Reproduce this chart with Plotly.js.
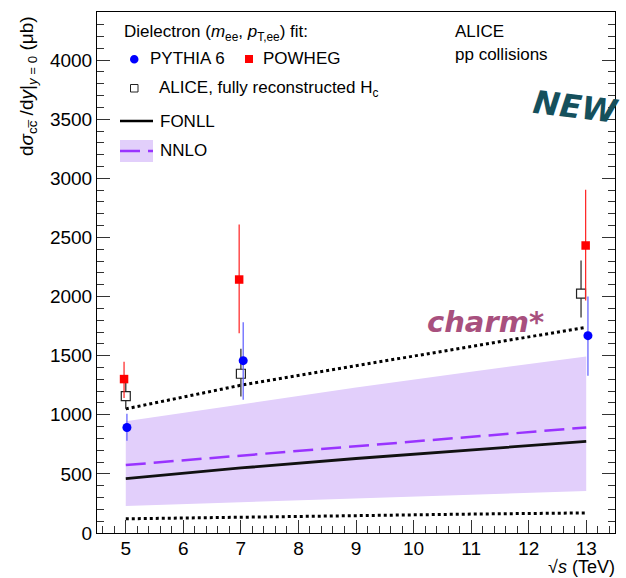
<!DOCTYPE html>
<html>
<head>
<meta charset="utf-8">
<script src="https://cdn.plot.ly/plotly-3.0.1.min.js"></script>
<style>html,body{margin:0;padding:0;background:#fff;}#plot{width:626px;height:578px;}</style>
</head>
<body>
<div id="plot"></div>
<script>
// ---- data ----
const xTheory = [5, 7, 9, 11, 13];
const fonll = [460, 550, 630, 705, 775];
const fonllUpper = [1050, 1250, 1415, 1580, 1740];
const fonllLower = [120, 135, 148, 160, 170];
const nnlo = [575, 655, 735, 815, 893];
const nnloUpper = [945, 1090, 1230, 1365, 1492];
const nnloLower = [229, 262, 295, 326, 356];

const pythiaX = [5.02, 7.04, 13.03];
const pythiaY = [892, 1458, 1669];
const pythiaErrPlus = [116, 324, 331];
const pythiaErrMinus = [112, 331, 339];

const powhegX = [4.97, 6.97, 12.99];
const powhegY = [1302, 2144, 2432];
const powhegErrPlus = [147, 466, 472];
const powhegErrMinus = [161, 455, 466];

const aliceX = [5.0, 7.0, 12.91];
const aliceY = [1158, 1347, 2025];
const aliceErrPlus = [139, 212, 280];
const aliceErrMinus = [107, 192, 203];

// ---- layout helpers ----
const W = 626, H = 578;
const L = 97, R = 615, T = 12, B = 533;
const px = v => (v - L) / (R - L);
const py = v => (B - v) / (B - T);
const FONT = 'Liberation Sans, Arial, sans-serif';
const bandColor = '#e2cffb';
const purple = '#9933ff';

const traces = [
  {x: xTheory, y: nnloLower, mode: 'lines', line: {width: 0}, hoverinfo: 'skip', showlegend: false},
  {x: xTheory, y: nnloUpper, mode: 'lines', line: {width: 0}, fill: 'tonexty', fillcolor: bandColor, hoverinfo: 'skip', showlegend: false},
  {x: xTheory, y: fonllUpper, mode: 'lines', line: {color: 'black', width: 3, dash: 'dot'}, showlegend: false},
  {x: xTheory, y: fonllLower, mode: 'lines', line: {color: 'black', width: 3, dash: 'dot'}, showlegend: false},
  {x: xTheory, y: nnlo, mode: 'lines', line: {color: purple, width: 2.5, dash: '20px,8px'}, showlegend: false},
  {x: xTheory, y: fonll, mode: 'lines', line: {color: '#111', width: 2.8}, showlegend: false},
  {x: aliceX, y: aliceY, mode: 'markers', showlegend: false,
   marker: {symbol: 'square', size: 9, color: 'white', line: {color: '#222', width: 1.2}},
   error_y: {type: 'data', symmetric: false, array: aliceErrPlus, arrayminus: aliceErrMinus, width: 0, thickness: 1.3, color: '#333'}},
  {x: powhegX, y: powhegY, mode: 'markers', showlegend: false,
   marker: {symbol: 'square', size: 8.5, color: '#ff0000'},
   error_y: {type: 'data', symmetric: false, array: powhegErrPlus, arrayminus: powhegErrMinus, width: 0, thickness: 1.2, color: '#ff2020'}},
  {x: pythiaX, y: pythiaY, mode: 'markers', showlegend: false,
   marker: {symbol: 'circle', size: 9, color: '#0000ff'},
   error_y: {type: 'data', symmetric: false, array: pythiaErrPlus, arrayminus: pythiaErrMinus, width: 0, thickness: 1.2, color: '#5a5aff'}}
];

const shapes = [
  // legend markers
  {type: 'circle', xref: 'paper', yref: 'paper', x0: px(130), x1: px(138.5), y0: py(63.5), y1: py(55), fillcolor: '#0000ff', line: {width: 0}},
  {type: 'rect', xref: 'paper', yref: 'paper', x0: px(245), x1: px(253), y0: py(63), y1: py(55), fillcolor: '#ff0000', line: {width: 0}},
  {type: 'rect', xref: 'paper', yref: 'paper', x0: px(130.5), x1: px(138), y0: py(92), y1: py(84.5), fillcolor: 'white', line: {color: '#222', width: 1}},
  {type: 'line', xref: 'paper', yref: 'paper', x0: px(120), x1: px(153), y0: py(121), y1: py(121), line: {color: 'black', width: 2.5}},
  {type: 'rect', xref: 'paper', yref: 'paper', x0: px(120), x1: px(153), y0: py(162), y1: py(140), fillcolor: bandColor, line: {width: 0}},
  {type: 'line', xref: 'paper', yref: 'paper', x0: px(120), x1: px(153), y0: py(151), y1: py(151), line: {color: purple, width: 2.5, dash: '20px,8px'}}
];

const ann = (text, x, y, opts) => Object.assign({
  text: text, xref: 'paper', yref: 'paper', x: px(x), y: py(y), xanchor: 'left', yanchor: 'middle',
  showarrow: false, font: {family: FONT, size: 17, color: 'black'}
}, opts || {});

const annotations = [
  ann('Dielectron (<i>m</i><sub>ee</sub>, <i>p</i><sub>T,ee</sub>) fit:', 122, 33),
  ann('PYTHIA 6', 148, 59),
  ann('POWHEG', 261, 59),
  ann('ALICE, fully reconstructed H<sub>c</sub>', 157, 89),
  ann('FONLL', 158, 121),
  ann('NNLO', 158, 151),
  ann('ALICE', 453, 31),
  ann('pp collisions', 453, 55),
  ann('d<i>σ</i><sub>cc\u0305</sub> /d<i>y</i>|<sub><i>y</i> = 0</sub> (μb)', 28, 86, {xanchor: 'center', textangle: -90, font: {family: FONT, size: 19, color: 'black'}}),
  ann('√<i>s</i> (TeV)', 616, 567, {xanchor: 'right', borderpad: 0, font: {family: FONT, size: 18, color: 'black'}}),
  ann('<b><i>NEW</i></b>', 576, 107, {xanchor: 'center', textangle: 7, font: {family: 'DejaVu Sans', size: 32, color: '#15505c'}}),
  ann('<b><i>charm*</i></b>', 485, 322, {xanchor: 'center', font: {family: 'DejaVu Sans', size: 29, color: '#a8507e'}})
];

const layout = {
  width: W, height: H,
  margin: {l: L, r: W - R, t: T, b: H - B, pad: 0},
  paper_bgcolor: 'white', plot_bgcolor: 'white',
  showlegend: false,
  font: {family: FONT, size: 19, color: 'black'},
  xaxis: {
    range: [4.5, 13.5], tickmode: 'linear', tick0: 5, dtick: 1,
    ticks: 'inside', ticklen: 13, tickcolor: '#333', tickwidth: 1,
    ticklabelstandoff: -2,
    minor: {ticks: 'inside', ticklen: 7, dtick: 0.2, tick0: 5, tickcolor: '#333', showgrid: false},
    showline: true, linecolor: 'black', linewidth: 1, mirror: true,
    showgrid: false, zeroline: false,
    tickfont: {family: FONT, size: 19, color: 'black'}
  },
  yaxis: {
    range: [0, 4407], tickmode: 'linear', tick0: 0, dtick: 500,
    ticks: 'inside', ticklen: 13, tickcolor: '#333', tickwidth: 1,
    minor: {ticks: 'inside', ticklen: 7, dtick: 100, tick0: 0, tickcolor: '#333', showgrid: false},
    showline: true, linecolor: 'black', linewidth: 1, mirror: 'allticks',
    showgrid: false, zeroline: false,
    tickfont: {family: FONT, size: 19, color: 'black'}
  },
  shapes: shapes,
  annotations: annotations
};

Plotly.newPlot('plot', traces, layout, {displayModeBar: false, staticPlot: true});
</script>
</body>
</html>
